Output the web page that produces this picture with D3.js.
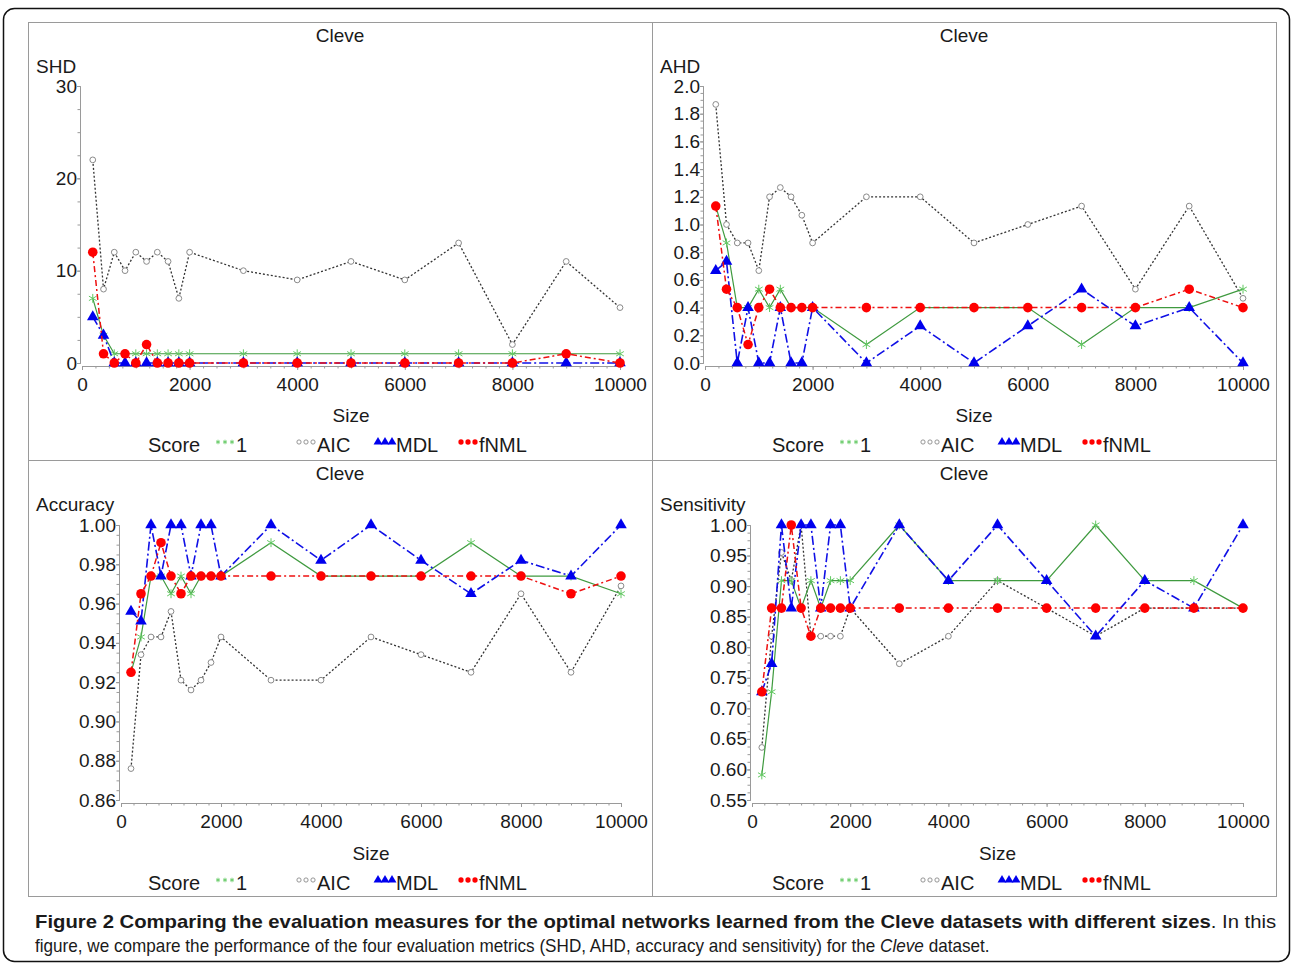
<!DOCTYPE html>
<html>
<head>
<meta charset="utf-8">
<script src="https://cdn.jsdelivr.net/npm/d3@7"></script>
<style>
  body { margin: 0; background: #fff; }
  svg text { font-family: "Liberation Sans", Arial, sans-serif; fill: #1a1a1a; }
</style>
</head>
<body>
<script>

// sample sizes of the Cleve datasets
var sizes = [200, 400, 600, 800, 1000, 1200, 1400, 1600, 1800, 2000, 3000, 4000, 5000, 6000, 7000, 8000, 9000, 10000];

var scoreNames = ["1", "AIC", "MDL", "fNML"];

// SHD
var shdOne  = [7, 3, 1, 1, 1, 1, 1, 1, 1, 1, 1, 1, 1, 1, 1, 1, 1, 1];
var shdAic  = [22, 8, 12, 10, 12, 11, 12, 11, 7, 12, 10, 9, 11, 9, 13, 2, 11, 6];
var shdMdl  = [5, 3, 0, 0, 0, 0, 0, 0, 0, 0, 0, 0, 0, 0, 0, 0, 0, 0];
var shdFnml = [12, 1, 0, 1, 0, 2, 0, 0, 0, 0, 0, 0, 0, 0, 0, 0, 1, 0];

// AHD
var ahdOne  = [1.133, 0.867, 0.4, 0.4, 0.533, 0.4, 0.533, 0.4, 0.4, 0.4, 0.133, 0.4, 0.4, 0.4, 0.133, 0.4, 0.4, 0.533];
var ahdAic  = [1.867, 1.0, 0.867, 0.867, 0.667, 1.2, 1.267, 1.2, 1.067, 0.867, 1.2, 1.2, 0.867, 1.0, 1.133, 0.533, 1.133, 0.467];
var ahdMdl  = [0.667, 0.733, 0, 0.4, 0, 0, 0.4, 0, 0, 0.4, 0, 0.267, 0, 0.267, 0.533, 0.267, 0.4, 0];
var ahdFnml = [1.133, 0.533, 0.4, 0.133, 0.4, 0.533, 0.4, 0.4, 0.4, 0.4, 0.4, 0.4, 0.4, 0.4, 0.4, 0.4, 0.533, 0.4];

// Accuracy
var accOne  = [0.925, 0.943, 0.974, 0.974, 0.965, 0.974, 0.965, 0.974, 0.974, 0.974, 0.991, 0.974, 0.974, 0.974, 0.991, 0.974, 0.974, 0.965];
var accAic  = [0.876, 0.934, 0.943, 0.943, 0.956, 0.921, 0.916, 0.921, 0.930, 0.943, 0.921, 0.921, 0.943, 0.934, 0.925, 0.965, 0.925, 0.969];
var accMdl  = [0.956, 0.951, 1.0, 0.974, 1.0, 1.0, 0.974, 1.0, 1.0, 0.974, 1.0, 0.982, 1.0, 0.982, 0.965, 0.982, 0.974, 1.0];
var accFnml = [0.925, 0.965, 0.974, 0.991, 0.974, 0.965, 0.974, 0.974, 0.974, 0.974, 0.974, 0.974, 0.974, 0.974, 0.974, 0.974, 0.965, 0.974];

// Sensitivity
var senOne  = [0.591, 0.727, 0.909, 0.909, 0.864, 0.909, 0.864, 0.909, 0.909, 0.909, 1.0, 0.909, 0.909, 0.909, 1.0, 0.909, 0.909, 0.864];
var senAic  = [0.636, 0.818, 0.955, 0.909, 1.0, 0.818, 0.818, 0.818, 0.818, 0.864, 0.773, 0.818, 0.909, 0.864, 0.818, 0.864, 0.864, 0.864];
var senMdl  = [0.727, 0.773, 1.0, 0.864, 1.0, 1.0, 0.864, 1.0, 1.0, 0.864, 1.0, 0.909, 1.0, 0.909, 0.818, 0.909, 0.864, 1.0];
var senFnml = [0.727, 0.864, 0.864, 1.0, 0.864, 0.818, 0.864, 0.864, 0.864, 0.864, 0.864, 0.864, 0.864, 0.864, 0.864, 0.864, 0.864, 0.864];

var xTicks = [0, 2000, 4000, 6000, 8000, 10000];

var width = 1293,
    height = 966;

// line / marker style for each score (same order as scoreNames)
var styles = [
  {stroke: "#3f9a3f", dash: null,        lw: 1.2, mark: d3.symbolAsterisk, msize: 55, lsize: 14, fill: "none",    mstroke: "#62c862"},
  {stroke: "#333333", dash: "2,2",       lw: 1.3, mark: d3.symbolCircle,   msize: 26, lsize: 14, fill: "#fff",    mstroke: "#8a8a8a"},
  {stroke: "#1010e6", dash: "9,3,2,3",   lw: 1.6, mark: d3.symbolTriangle, msize: 58, lsize: 34, fill: "#0000ee", mstroke: "none"},
  {stroke: "#ee1010", dash: "6,3,2,3",   lw: 1.5, mark: d3.symbolCircle,   msize: 72, lsize: 22, fill: "#ff0000", mstroke: "none"}
];
var drawOrder = [1, 0, 2, 3];

var panels = [
  {label: "SHD", left: 28, top: 22, x0: 54, x1: 592, yb: 341, yt: 64,
   domain: [0, 30], ticks: [0, 10, 20, 30], minor: 2.5, fmt: d3.format("d"),
   series: [shdOne, shdAic, shdMdl, shdFnml]},
  {label: "AHD", left: 652, top: 22, x0: 53, x1: 591, yb: 341, yt: 64,
   domain: [0, 2], ticks: d3.range(0, 2.01, 0.2), minor: 0.05, fmt: d3.format(".1f"),
   series: [ahdOne, ahdAic, ahdMdl, ahdFnml]},
  {label: "Accuracy", left: 28, top: 460, x0: 93, x1: 593, yb: 340, yt: 65,
   domain: [0.86, 1.0], ticks: d3.range(0.86, 1.001, 0.02), minor: 0.005, fmt: d3.format(".2f"),
   series: [accOne, accAic, accMdl, accFnml]},
  {label: "Sensitivity", left: 652, top: 460, x0: 100, x1: 591, yb: 340, yt: 65,
   domain: [0.55, 1.0], ticks: d3.range(0.55, 1.001, 0.05), minor: 0.0125, fmt: d3.format(".2f"),
   series: [senOne, senAic, senMdl, senFnml]}
];

var svg = d3.select("body").append("svg")
    .attr("width", width)
    .attr("height", height);

// outer rounded frame
svg.append("rect")
    .attr("x", 3.5).attr("y", 8.5)
    .attr("width", 1286).attr("height", 953)
    .attr("rx", 11)
    .attr("fill", "none")
    .attr("stroke", "#111")
    .attr("stroke-width", 1.5);

// box around the four panels
svg.append("rect")
    .attr("x", 28.5).attr("y", 22.5)
    .attr("width", 1248).attr("height", 874)
    .attr("fill", "none")
    .attr("stroke", "#9a9a9a");
svg.append("line")
    .attr("x1", 652.5).attr("x2", 652.5).attr("y1", 22.5).attr("y2", 896.5)
    .attr("stroke", "#9a9a9a");
svg.append("line")
    .attr("x1", 28.5).attr("x2", 1276.5).attr("y1", 460.5).attr("y2", 460.5)
    .attr("stroke", "#9a9a9a");

panels.forEach(function(p) {
  var g = svg.append("g");

  var x = d3.scaleLinear()
      .domain([0, 10000])
      .range([p.left + p.x0, p.left + p.x1]);
  var y = d3.scaleLinear()
      .domain(p.domain)
      .range([p.top + p.yb, p.top + p.yt]);

  // title
  g.append("text")
      .attr("x", p.left + 312)
      .attr("y", p.top + 13)
      .attr("dy", "0.35em")
      .attr("text-anchor", "middle")
      .style("font-size", "19px")
      .text("Cleve");

  // y label on top of the axis
  g.append("text")
      .attr("x", p.left + 8)
      .attr("y", p.top + 44)
      .attr("dy", "0.35em")
      .style("font-size", "19px")
      .text(p.label);

  // x axis: minor then major
  var xa = g.append("g").attr("transform", "translate(0," + (p.top + p.yb + 3) + ")");
  xa.append("g")
      .call(d3.axisBottom(x).tickValues(d3.range(0, 10001, 250)).tickSize(2.5).tickFormat(""));
  xa.append("g")
      .call(d3.axisBottom(x).tickValues(xTicks).tickSize(4).tickPadding(8).tickFormat(d3.format("d")));

  // y axis: minor then major
  var ya = g.append("g").attr("transform", "translate(" + (p.left + p.x0 - 2) + ",0)");
  ya.append("g")
      .call(d3.axisLeft(y).tickValues(d3.range(p.domain[0], p.domain[1] + 1e-9, p.minor)).tickSize(2.5).tickFormat(""));
  ya.append("g")
      .call(d3.axisLeft(y).tickValues(p.ticks).tickSize(3).tickPadding(0).tickFormat(p.fmt));

  g.selectAll(".domain, .tick line").attr("stroke", "#9a9a9a");
  g.selectAll(".tick text")
      .attr("fill", "#1a1a1a")
      .style("font-size", "19px")
      .style("font-family", "'Liberation Sans', Arial, sans-serif");

  // x label
  g.append("text")
      .attr("x", (x(0) + x(10000)) / 2)
      .attr("y", p.top + 393)
      .attr("dy", "0.35em")
      .attr("text-anchor", "middle")
      .style("font-size", "19px")
      .text("Size");

  // series
  var line = d3.line()
      .x(function(d) { return x(d[0]); })
      .y(function(d) { return y(d[1]); });

  drawOrder.forEach(function(k) {
    var s = styles[k];
    var pts = d3.zip(sizes, p.series[k]);

    g.append("path")
        .datum(pts)
        .attr("fill", "none")
        .attr("stroke", s.stroke)
        .attr("stroke-width", s.lw)
        .attr("stroke-dasharray", s.dash)
        .attr("d", line);

    g.selectAll(null)
        .data(pts)
      .enter().append("path")
        .attr("transform", function(d) { return "translate(" + x(d[0]) + "," + y(d[1]) + ")"; })
        .attr("d", d3.symbol().type(s.mark).size(s.msize))
        .attr("fill", s.fill)
        .attr("stroke", s.mstroke)
        .attr("stroke-width", 1);
  });

  // legend
  var ly = p.top + 423;
  g.append("text")
      .attr("x", p.left + 120)
      .attr("y", ly)
      .attr("dy", "0.35em")
      .style("font-size", "20px")
      .text("Score");

  var symX = [187, 268, 347, 430];
  scoreNames.forEach(function(name, k) {
    var s = styles[k];
    var sx = p.left + symX[k];
    g.selectAll(null)
        .data([0, 1, 2])
      .enter().append("path")
        .attr("transform", function(i) { return "translate(" + (sx + 3 + i * 7) + "," + (ly - 3) + ")"; })
        .attr("d", d3.symbol().type(s.mark).size(s.lsize))
        .attr("fill", s.fill)
        .attr("stroke", s.mstroke)
        .attr("stroke-width", 0.9);
    g.append("text")
        .attr("x", sx + 21)
        .attr("y", ly)
        .attr("dy", "0.35em")
        .style("font-size", "20px")
        .text(name);
  });
});

// figure caption: each line squeezed horizontally to the width it takes in the figure
var capFont = "'Liberation Sans Narrow', 'DejaVu Sans Condensed', sans-serif";

var capLine1 = svg.append("g").style("font-family", capFont).style("font-size", "18px");
var cap1 = capLine1.append("text").attr("x", 0).attr("y", 928);
cap1.append("tspan")
    .style("font-weight", "bold")
    .text("Figure 2 Comparing the evaluation measures for the optimal networks learned from the Cleve datasets with different sizes");
cap1.append("tspan").text(". In this");

var capLine2 = svg.append("g").style("font-family", capFont).style("font-size", "18px");
var cap2 = capLine2.append("text").attr("x", 0).attr("y", 952);
cap2.append("tspan").text("figure, we compare the performance of the four evaluation metrics (SHD, AHD, accuracy and sensitivity) for the ");
cap2.append("tspan").style("font-style", "italic").text("Cleve");
cap2.append("tspan").text(" dataset.");

var w1 = cap1.node().getComputedTextLength(),
    w2 = cap2.node().getComputedTextLength();
capLine1.attr("transform", "translate(35,0) scale(" + (w1 > 0 ? 1242 / w1 : 1) + ",1)");
capLine2.attr("transform", "translate(35,0) scale(" + (w2 > 0 ? 955 / w2 : 1) + ",1)");

</script>
</body>
</html>
